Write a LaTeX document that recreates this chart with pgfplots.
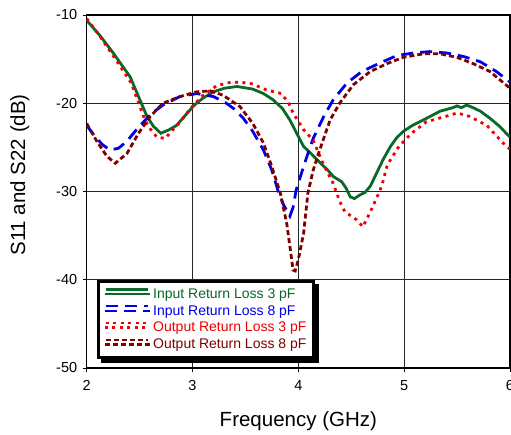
\documentclass[border=0pt]{standalone}
\usepackage{pgfplots}
\pgfplotsset{compat=1.18}
\usepackage{fontspec}
\setmainfont{Liberation Sans}

\definecolor{cgreen}{RGB}{10,105,40}
\definecolor{cblue}{RGB}{0,0,230}
\definecolor{cred}{RGB}{240,0,0}
\definecolor{cdark}{RGB}{128,0,0}

\begin{document}
\begin{tikzpicture}
\begin{axis}[
  scale only axis,
  width=423.3pt, height=353pt,
  xmin=2, xmax=6, ymin=-50, ymax=-10,
  xtick={2,3,4,5,6}, ytick={-50,-40,-30,-20,-10},
  xticklabels={2,3,4,5,6},
  yticklabels={-50,-40,-30,-20,-10},
  tick align=outside, xtick pos=left, ytick pos=left,
  major tick length=4pt,
  tick style={black, line width=0.9pt},
  grid=major,
  major grid style={black!85, line width=0.9pt},
  axis line style={black, line width=1.2pt},
  tick label style={font=\fontsize{14.5}{17}\selectfont},
  xticklabel style={yshift=-5pt},
  yticklabel style={xshift=-2pt},
  xlabel={Frequency (GHz)},
  ylabel={S11 and S22 (dB)},
  label style={font=\fontsize{20.5}{24}\selectfont},
  xlabel style={at={(axis description cs:0.5,-0.152)}, anchor=center},
  ylabel style={at={(axis description cs:-0.158,0.547)}, anchor=center, rotate=0},
  legend cell align=left,
  legend style={at={(0.024,0.026)}, anchor=south west, name=legbox,
    draw=black, line width=3pt, fill=white,
    font=\fontsize{14}{16.7}\selectfont,
    inner xsep=5pt, inner ysep=5pt,
    row sep=1.6pt},
  legend image code/.code={%
    \path (0pt,0pt) -- (45pt,0pt);
    \draw[#1, line width=2.6pt] (1pt,4.8pt) -- (43pt,4.8pt);},
]
\addplot[cgreen, line width=2.8pt] coordinates {
(2.00,-10.6) (2.13,-12.4) (2.25,-14.3) (2.41,-17.0) (2.57,-21.5) (2.63,-22.6)
(2.70,-23.4) (2.78,-23.0) (2.85,-22.5) (2.93,-21.4) (3.01,-20.3) (3.10,-19.4)
(3.20,-18.7) (3.30,-18.3) (3.42,-18.1) (3.57,-18.4) (3.67,-18.9) (3.76,-19.6)
(3.85,-20.6) (3.92,-21.9) (4.01,-24.0) (4.05,-24.9) (4.12,-25.7) (4.21,-26.8)
(4.28,-27.6) (4.33,-28.3) (4.41,-28.9) (4.45,-29.6) (4.49,-30.6) (4.53,-30.8)
(4.58,-30.4) (4.63,-30.1) (4.68,-29.4) (4.74,-27.9) (4.80,-26.4) (4.87,-24.9)
(4.93,-23.9) (4.99,-23.2) (5.08,-22.5) (5.18,-21.9) (5.26,-21.4) (5.34,-20.9)
(5.40,-20.7) (5.46,-20.5) (5.50,-20.3) (5.54,-20.5) (5.59,-20.2) (5.65,-20.5)
(5.72,-20.9) (5.81,-21.7) (5.90,-22.6) (5.98,-23.6) (6.00,-23.8)
};
\addlegendentry{\textcolor{cgreen}{Input Return Loss 3 pF}}
\addplot[cblue, line width=2.8pt, dash pattern=on 12pt off 7pt] coordinates {
(2.00,-22.5) (2.08,-23.8) (2.15,-24.7) (2.22,-25.3) (2.30,-25.1) (2.38,-24.3)
(2.47,-23.0) (2.60,-21.3) (2.72,-20.2) (2.88,-19.25) (3.04,-18.9) (3.20,-19.25)
(3.32,-20.0) (3.40,-20.7) (3.48,-21.7) (3.57,-23.2) (3.67,-25.3) (3.75,-27.6)
(3.81,-30.0) (3.86,-31.5) (3.92,-32.8) (3.95,-31.8) (3.98,-29.8) (4.03,-27.9)
(4.09,-25.7) (4.14,-24.0) (4.24,-21.5) (4.33,-19.6) (4.46,-17.7) (4.60,-16.4)
(4.76,-15.5) (4.93,-14.6) (5.09,-14.3) (5.24,-14.15) (5.40,-14.3) (5.56,-14.7)
(5.72,-15.3) (5.87,-16.4) (5.98,-17.4) (6.00,-17.6)
};
\addlegendentry{\textcolor{cblue}{Input Return Loss 8 pF}}
\addplot[cred, line width=2.8pt, dash pattern=on 3pt off 4.5pt] coordinates {
(2.00,-10.4) (2.13,-12.5) (2.30,-15.5) (2.42,-17.7) (2.55,-21.9) (2.60,-22.9)
(2.66,-23.8) (2.74,-24.0) (2.80,-23.2) (2.87,-22.3) (2.98,-20.6) (3.10,-19.1)
(3.23,-18.0) (3.37,-17.6) (3.54,-17.7) (3.70,-18.5) (3.84,-18.9) (3.91,-20.0)
(3.95,-21.1) (4.05,-23.0) (4.14,-24.2) (4.24,-27.0) (4.33,-29.1) (4.36,-30.1)
(4.39,-31.1) (4.44,-32.3) (4.55,-33.2) (4.61,-34.0) (4.68,-32.3) (4.76,-30.2)
(4.79,-29.3) (4.84,-27.0) (4.95,-24.9) (5.07,-23.4) (5.21,-22.1) (5.39,-21.5)
(5.50,-21.1) (5.62,-21.5) (5.78,-22.5) (5.95,-24.7) (6.00,-25.2)
};
\addlegendentry{\textcolor{cred}{Output Return Loss 3 pF}}
\addplot[cdark, line width=2.8pt, dash pattern=on 5pt off 3pt] coordinates {
(2.00,-22.3) (2.09,-24.2) (2.19,-26.0) (2.27,-26.8) (2.38,-25.7) (2.49,-23.4)
(2.60,-21.5) (2.72,-20.0) (2.88,-19.25) (3.04,-18.7) (3.17,-18.6) (3.29,-19.1)
(3.45,-20.4) (3.57,-22.3) (3.67,-24.5) (3.75,-27.2) (3.83,-30.2) (3.89,-33.6)
(3.92,-36.2) (3.95,-38.9) (3.97,-39.0) (4.00,-37.7) (4.05,-34.7) (4.09,-30.2)
(4.14,-27.6) (4.19,-25.7) (4.30,-21.9) (4.39,-20.0) (4.52,-17.9) (4.68,-16.4)
(4.84,-15.5) (4.99,-14.8) (5.18,-14.4) (5.34,-14.4) (5.50,-14.8) (5.65,-15.5)
(5.81,-16.4) (5.98,-18.1) (6.00,-18.3)
};
\addlegendentry{\textcolor{cdark}{Output Return Loss 8 pF}}
\end{axis}
% legend shadow strips (bottom and right)
\fill[black] ([xshift=4pt]legbox.south west) rectangle ([xshift=4pt,yshift=-4pt]legbox.south east);
\fill[black] ([yshift=-4pt]legbox.north east) rectangle ([xshift=4pt,yshift=-4pt]legbox.south east);
\pgfresetboundingbox
\path[use as bounding box] (-86.7pt,-66pt) rectangle (424.3pt,368pt);
\end{tikzpicture}
\end{document}
